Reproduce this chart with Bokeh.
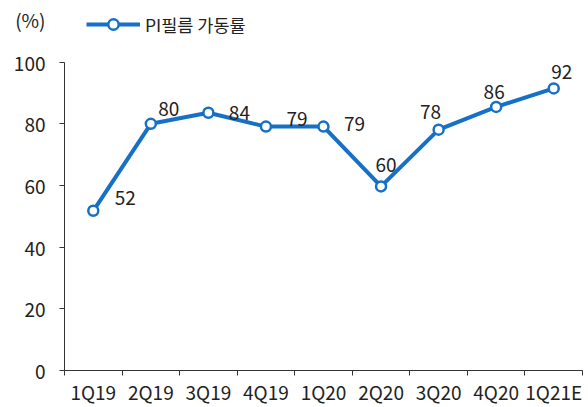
from bokeh.plotting import figure
from bokeh.models import (ColumnDataSource, FixedTicker, Legend, LegendItem, LinearAxis, Range1d)
from bokeh.core.properties import value
from bokeh.embed import file_html
from bokeh.resources import INLINE

categories = ["1Q19", "2Q19", "3Q19", "4Q19", "1Q20", "2Q20", "3Q20", "4Q20", "1Q21E"]
utilization = [51.8, 80.0, 83.6, 79.1, 79.1, 59.7, 78.1, 85.5, 91.5]
value_labels = ["52", "80", "84", "79", "79", "60", "78", "86", "92"]
y_ticks = [0, 20, 40, 60, 80, 100]
series_name = "PI필름 가동률"
unit_label = "(%)"
unit_label_pos = 114   # where the unit label sits on the value scale (above 100)

# label placement (styling, pixels)
label_dx = [32, 18, 31, 31, 31, 5, -8, -2, 8]
label_dy = [-13, -15, 0, -8, -3, -21, -18, -15, -16]

FONT = "Noto Sans CJK KR"
BLUE = "#1570c6"
TXT = "#222222"
AXC = "#333333"

xs = [i + 0.5 for i in range(len(categories))]
src = ColumnDataSource(dict(x=xs, y=utilization, lab=value_labels, dx=label_dx, dy=label_dy))

p = figure(width=588, height=407, output_backend="svg", toolbar_location=None,
           x_range=Range1d(0, len(categories)), y_range=Range1d(0, 120),
           min_border_left=64, min_border_right=6, min_border_top=0, min_border_bottom=34)
p.outline_line_color = None
p.xgrid.grid_line_color = None
p.ygrid.grid_line_color = None
p.background_fill_color = "white"
p.border_fill_color = "white"

ln = p.line("x", "y", source=src, line_color=BLUE, line_width=4)
sc = p.scatter("x", "y", source=src, size=10, fill_color="white", line_color=BLUE, line_width=2.5)

p.text("x", "y", text="lab", source=src, x_offset="dx", y_offset="dy",
       text_font=value(FONT), text_font_size="19px", text_color=TXT,
       text_align="center", text_baseline="middle")

# x axis: labels at category centres, ticks at boundaries
xa = p.xaxis[0]
xa.ticker = FixedTicker(ticks=xs, minor_ticks=list(range(len(categories) + 1)))
xa.major_label_overrides = {x: c for x, c in zip(xs, categories)}
xa.major_tick_line_color = None
xa.major_tick_in = 0
xa.major_tick_out = 5
xa.minor_tick_line_color = AXC
xa.minor_tick_in = 0
xa.minor_tick_out = 5
xa.axis_line_color = AXC
xa.major_label_standoff = 2
xa.major_label_text_font = FONT
xa.major_label_text_font_size = "19px"
xa.major_label_text_color = TXT

# y axis line + tick marks (0..100 only); its own labels are not drawn
ya = p.yaxis[0]
ya.bounds = (0, 100)
ya.ticker = FixedTicker(ticks=y_ticks)
ya.minor_tick_line_color = None
ya.major_tick_in = 0
ya.major_tick_out = 5
ya.axis_line_color = AXC
ya.major_tick_line_color = AXC
ya.major_label_standoff = 0
ya.major_label_text_font_size = "1px"
ya.major_label_text_color = None

# y tick labels plus the "(%)" unit label
ylab = LinearAxis(ticker=FixedTicker(ticks=y_ticks + [unit_label_pos]),
                  major_label_overrides={unit_label_pos: unit_label},
                  axis_line_color=None, major_tick_line_color=None, minor_tick_line_color=None,
                  major_tick_in=0, major_tick_out=0, minor_tick_in=0, minor_tick_out=0,
                  major_label_standoff=14, major_label_text_font=FONT,
                  major_label_text_font_size="19px", major_label_text_color=TXT)
p.add_layout(ylab, "left")

legend = Legend(items=[LegendItem(label=series_name, renderers=[ln, sc])],
                location=(22, 333), orientation="horizontal",
                border_line_color=None, background_fill_alpha=0,
                padding=0, margin=0, glyph_width=54, glyph_height=26, label_height=26,
                label_standoff=5,
                label_text_font=FONT, label_text_font_size="17.5px", label_text_color=TXT)
p.add_layout(legend, "center")

open("out.html", "w").write(file_html(p, INLINE))
